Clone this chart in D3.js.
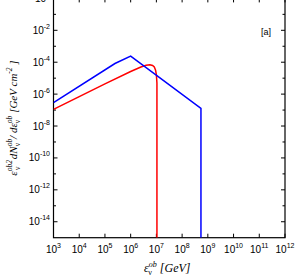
<!DOCTYPE html>
<html><head><meta charset="utf-8">
<script src="https://cdn.jsdelivr.net/npm/d3@7"></script>
<style>body{margin:0;background:#fff}svg{display:block}</style>
</head><body>
<script>
// Data
const redE = [1e3, 1e4, 1e5, 1e6, 2.5e6, 4e6, 5.6e6, 7.1e6, 8.3e6, 9.3e6, 1e7, 1.05e7, 1.05e7];
const redF = [1.1e-7, 6.9e-7, 4.4e-6, 2.6e-5, 5.0e-5, 6.5e-5, 6.9e-5, 6.3e-5, 5.0e-5, 3.2e-5, 1.6e-5, 5.0e-6, 1e-15];
const blueE = [1e3, 2.45e5, 1e6, 5.4e8, 5.4e8];
const blueF = [2.9e-7, 8.3e-5, 2.4e-4, 1.26e-7, 1e-15];
const xTickExp = [3,4,5,6,7,8,9,10,11,12];
const yTickExp = [0,-2,-4,-6,-8,-10,-12,-14];
const yMinorExp = [-1,-3,-5,-7,-9,-11,-13];
const panelLabel = "[a]";

const W = 300, H = 279;
const L = 53.5, R = 285, T = -1.6, B = 237.7;
const svg = d3.select("body").append("svg").attr("width", W).attr("height", H);
const x = d3.scaleLog().domain([1e3, 1e12]).range([L, R]);
const y = d3.scaleLog().domain([1e-15, 1e0]).range([B, T]);

const g = svg.append("g");
g.append("rect").attr("x", L).attr("y", T).attr("width", R - L).attr("height", B - T)
  .attr("fill", "none").attr("stroke", "#000").attr("stroke-width", 1.2);

const tickLen = 4, minorLen = 2.5;
xTickExp.forEach(e => {
  const px = x(Math.pow(10, e));
  g.append("line").attr("x1", px).attr("x2", px).attr("y1", B).attr("y2", B - tickLen).attr("stroke", "#000");
  g.append("line").attr("x1", px).attr("x2", px).attr("y1", T).attr("y2", T + tickLen).attr("stroke", "#000");
  const t = g.append("text").attr("x", px).attr("y", 252.5).attr("text-anchor", "middle")
    .attr("font-family", "Liberation Sans, Arial, sans-serif").attr("font-size", 10).attr("fill", "#000");
  t.append("tspan").text("10");
  t.append("tspan").attr("dy", -5).attr("font-size", 7).text(e);
});
yTickExp.forEach(e => {
  const py = y(Math.pow(10, e));
  g.append("line").attr("x1", L).attr("x2", L + tickLen).attr("y1", py).attr("y2", py).attr("stroke", "#000");
  g.append("line").attr("x1", R).attr("x2", R - tickLen).attr("y1", py).attr("y2", py).attr("stroke", "#000");
  const t = g.append("text").attr("x", 50).attr("y", py + 3.5).attr("text-anchor", "end")
    .attr("font-family", "Liberation Sans, Arial, sans-serif").attr("font-size", 10).attr("fill", "#000");
  t.append("tspan").text("10");
  t.append("tspan").attr("dy", -5).attr("font-size", 7).text(e === 0 ? "0" : "-" + Math.abs(e));
});
yMinorExp.forEach(e => {
  const py = y(Math.pow(10, e));
  g.append("line").attr("x1", L).attr("x2", L + minorLen).attr("y1", py).attr("y2", py).attr("stroke", "#000");
  g.append("line").attr("x1", R).attr("x2", R - minorLen).attr("y1", py).attr("y2", py).attr("stroke", "#000");
});

svg.append("clipPath").attr("id", "c").append("rect")
  .attr("x", L).attr("y", T).attr("width", R - L).attr("height", B - T);
const line = d3.line().x(d => x(d[0])).y(d => y(d[1]));
g.append("path").datum(redE.map((e, i) => [e, redF[i]])).attr("d", line)
  .attr("fill", "none").attr("stroke", "#ff0000").attr("stroke-width", 1.5).attr("clip-path", "url(#c)");
g.append("path").datum(blueE.map((e, i) => [e, blueF[i]])).attr("d", line)
  .attr("fill", "none").attr("stroke", "#0000ff").attr("stroke-width", 1.5).attr("clip-path", "url(#c)");

g.append("text").attr("x", 261).attr("y", 35).attr("font-family", "Liberation Sans, Arial, sans-serif")
  .attr("font-size", 9).text(panelLabel);

function rich(sel, parts) {
  parts.forEach(p => {
    const ts = sel.append("tspan").text(p.t);
    if (p.s) ts.attr("font-size", p.s);
    if (p.dy) ts.attr("dy", p.dy);
    if (p.dx) ts.attr("dx", p.dx);
    if (p.n) ts.attr("font-style", "normal");
  });
}
const xl = g.append("text").attr("x", 144).attr("y", 272).attr("font-family", "Liberation Serif, Times New Roman, serif")
  .attr("font-style", "italic").attr("font-size", 12);
rich(xl, [{t: "ε"}, {t: "ob", s: 8, dy: -5}, {t: "ν", s: 8, dx: -8.5, dy: 8, n: true}, {t: "[GeV]", dx: 8, dy: -3}]);

const yl = g.append("text").attr("transform", "translate(17,118) rotate(-90)").attr("text-anchor", "middle")
  .attr("font-family", "Liberation Serif, Times New Roman, serif").attr("font-style", "italic").attr("font-size", 11);
rich(yl, [
  {t: "ε"}, {t: "ob2", s: 7.5, dy: -5}, {t: "ν", s: 7.5, dx: -10, dy: 8, n: true},
  {t: "dN", dx: 7.5, dy: -3}, {t: "ob", s: 7.5, dy: -5}, {t: "ν", s: 7.5, dx: -7.5, dy: 8, n: true},
  {t: "/ dε", dx: 4, dy: -3}, {t: "ob", s: 7.5, dy: -5}, {t: "ν", s: 7.5, dx: -7.5, dy: 8, n: true},
  {t: "[GeV cm", dx: 7, dy: -3}, {t: "-2", s: 7.5, dy: -5}, {t: " ]", dy: 5}
]);
</script>
</body></html>
